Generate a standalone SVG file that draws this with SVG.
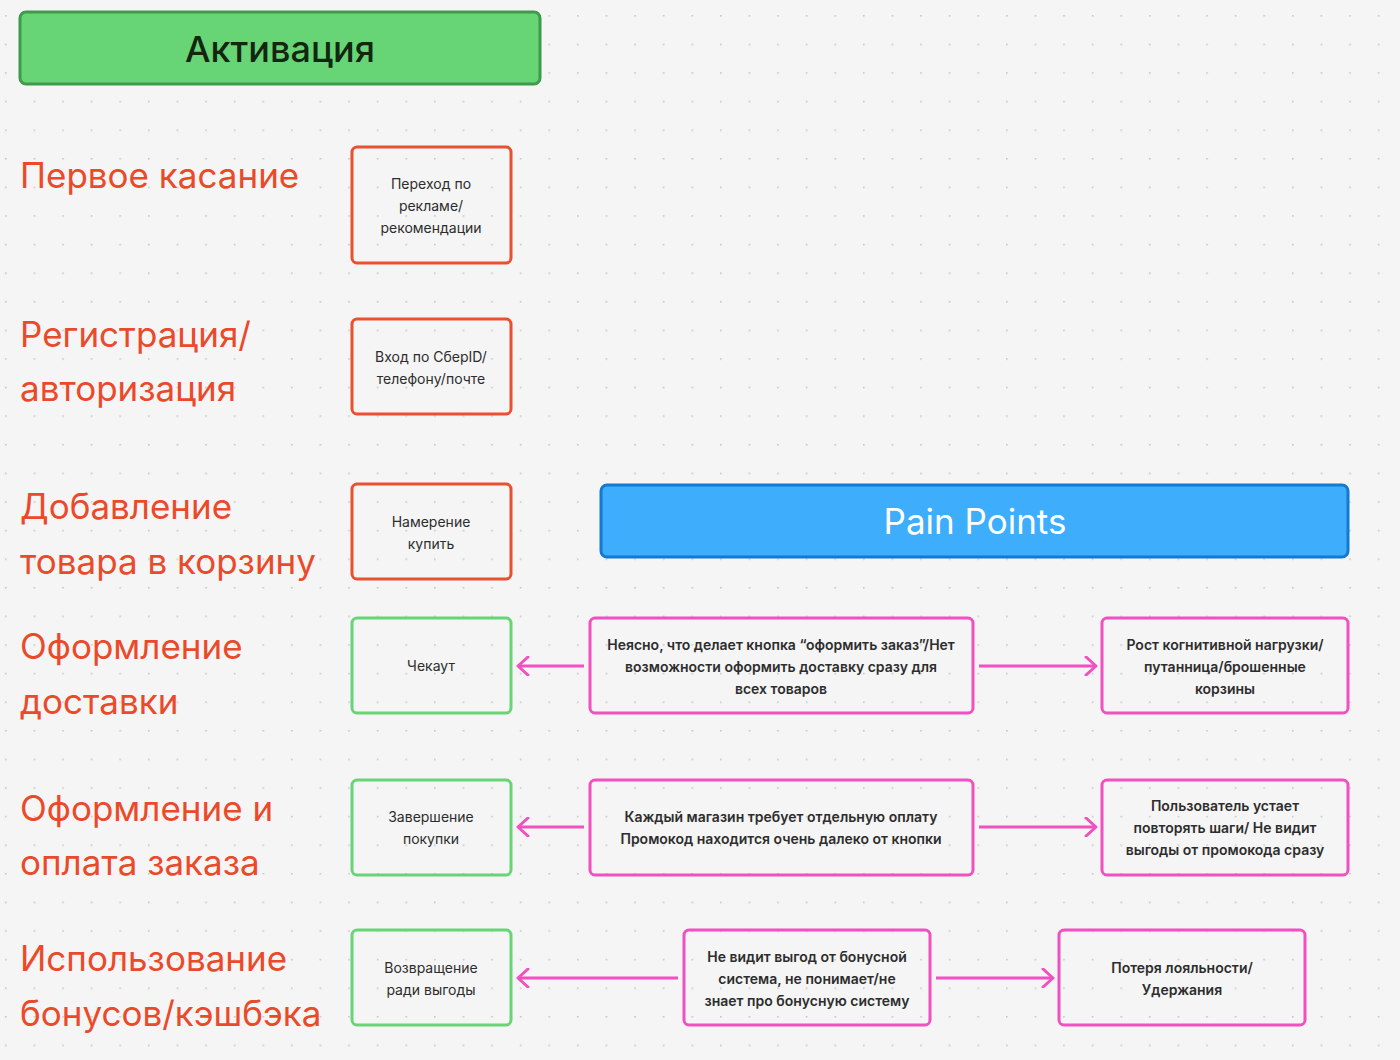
<svg xmlns="http://www.w3.org/2000/svg" width="1400" height="1060" viewBox="0 0 1400 1060">
<defs>
<pattern id="dots" x="5" y="15" width="28.6" height="28.6" patternUnits="userSpaceOnUse">
<circle cx="0.8" cy="0.8" r="0.9" fill="#c4c4c4"/>
</pattern>
<marker id="ah" viewBox="0 0 20 20" refX="17" refY="10" markerWidth="20" markerHeight="20" markerUnits="userSpaceOnUse" orient="auto">
<path d="M7,1 L17,10 L7,19" fill="none" stroke="#f050c0" stroke-width="3" stroke-linecap="round" stroke-linejoin="round"/>
</marker>
<style>
.lbl{font-family:Inter,"Noto Sans",sans-serif;font-size:35px;fill:#ea4a2a}
.red{fill:none;stroke:#e9502f;stroke-width:3}
.grn{fill:none;stroke:#68d478;stroke-width:3}
.pnk{fill:none;stroke:#f050c0;stroke-width:3}
.t{font-family:Inter,"Noto Sans",sans-serif;font-size:14px;fill:#2d2d2d;text-anchor:middle}
.b{font-family:Inter,"Noto Sans",sans-serif;font-size:14px;font-weight:600;fill:#2d2d2d;text-anchor:middle}
.con{stroke:#f050c0;stroke-width:3;fill:none;marker-end:url(#ah)}
</style>
</defs>
<rect width="1400" height="1060" fill="#f5f5f5"/>
<rect width="1400" height="1060" fill="url(#dots)"/>

<g id="header-activation">
<rect x="20" y="12" width="520" height="72" rx="6" fill="#67d576" stroke="#3f9a4c" stroke-width="3"/>
<text x="280" y="62" text-anchor="middle" font-family="Inter,'Noto Sans',sans-serif" font-size="36" font-weight="500" fill="#13260f">Активация</text>
</g>

<g id="label-first-touch"><text class="lbl" x="20" y="188">Первое касание</text></g>
<g id="label-registration"><text class="lbl" x="20" y="347">Регистрация/</text><text class="lbl" x="20" y="401">авторизация</text></g>
<g id="label-add-cart"><text class="lbl" x="20" y="519">Добавление</text><text class="lbl" x="20" y="574">товара в корзину</text></g>
<g id="label-delivery"><text class="lbl" x="20" y="659">Оформление</text><text class="lbl" x="20" y="714">доставки</text></g>
<g id="label-payment"><text class="lbl" x="20" y="821">Оформление и</text><text class="lbl" x="20" y="875">оплата заказа</text></g>
<g id="label-bonus"><text class="lbl" x="20" y="971">Использование</text><text class="lbl" x="20" y="1026">бонусов/кэшбэка</text></g>

<g id="step-ad"><rect class="red" x="352" y="147" width="159" height="116" rx="5"/>
<text class="t" x="431" y="189">Переход по</text><text class="t" x="431" y="211">рекламе/</text><text class="t" x="431" y="233">рекомендации</text></g>
<g id="step-login"><rect class="red" x="352" y="319" width="159" height="95" rx="5"/>
<text class="t" x="431" y="362">Вход по СберID/</text><text class="t" x="431" y="384">телефону/почте</text></g>
<g id="step-intent"><rect class="red" x="352" y="484" width="159" height="95" rx="5"/>
<text class="t" x="431" y="527">Намерение</text><text class="t" x="431" y="549">купить</text></g>
<g id="step-checkout"><rect class="grn" x="352" y="618" width="159" height="95" rx="5"/>
<text class="t" x="431" y="671">Чекаут</text></g>
<g id="step-complete"><rect class="grn" x="352" y="780" width="159" height="95" rx="5"/>
<text class="t" x="431" y="822">Завершение</text><text class="t" x="431" y="844">покупки</text></g>
<g id="step-return"><rect class="grn" x="352" y="930" width="159" height="95" rx="5"/>
<text class="t" x="431" y="973">Возвращение</text><text class="t" x="431" y="995">ради выгоды</text></g>

<g id="header-pain-points">
<rect x="601" y="485" width="747" height="72" rx="6" fill="#3eadfc" stroke="#1479d0" stroke-width="3"/>
<text x="975" y="534" text-anchor="middle" font-family="Inter,'Noto Sans',sans-serif" font-size="35" fill="#ffffff">Pain Points</text>
</g>

<g id="pain-1"><rect class="pnk" x="590" y="618" width="383" height="95" rx="5"/>
<text class="b" x="781" y="650">Неясно, что делает кнопка “оформить заказ”/Нет</text><text class="b" x="781" y="672">возможности оформить доставку сразу для</text><text class="b" x="781" y="694">всех товаров</text></g>
<g id="effect-1"><rect class="pnk" x="1102" y="618" width="246" height="95" rx="5"/>
<text class="b" x="1225" y="650">Рост когнитивной нагрузки/</text><text class="b" x="1225" y="672">путанница/брошенные</text><text class="b" x="1225" y="694">корзины</text></g>
<g id="pain-2"><rect class="pnk" x="590" y="780" width="383" height="95" rx="5"/>
<text class="b" x="781" y="822">Каждый магазин требует отдельную оплату</text><text class="b" x="781" y="844">Промокод находится очень далеко от кнопки</text></g>
<g id="effect-2"><rect class="pnk" x="1102" y="780" width="246" height="95" rx="5"/>
<text class="b" x="1225" y="811">Пользователь устает</text><text class="b" x="1225" y="833">повторять шаги/ Не видит</text><text class="b" x="1225" y="855">выгоды от промокода сразу</text></g>
<g id="pain-3"><rect class="pnk" x="684" y="930" width="246" height="95" rx="5"/>
<text class="b" x="807" y="962">Не видит выгод от бонусной</text><text class="b" x="807" y="984">система, не понимает/не</text><text class="b" x="807" y="1006">знает про бонусную систему</text></g>
<g id="effect-3"><rect class="pnk" x="1059" y="930" width="246" height="95" rx="5"/>
<text class="b" x="1182" y="973">Потеря лояльности/</text><text class="b" x="1182" y="995">Удержания</text></g>

<g id="connectors">
<line class="con" x1="584" y1="666" x2="518" y2="666"/>
<line class="con" x1="979" y1="666" x2="1096" y2="666"/>
<line class="con" x1="584" y1="827" x2="518" y2="827"/>
<line class="con" x1="979" y1="827" x2="1096" y2="827"/>
<line class="con" x1="678" y1="978" x2="518" y2="978"/>
<line class="con" x1="936" y1="978" x2="1053" y2="978"/>
</g>
</svg>
